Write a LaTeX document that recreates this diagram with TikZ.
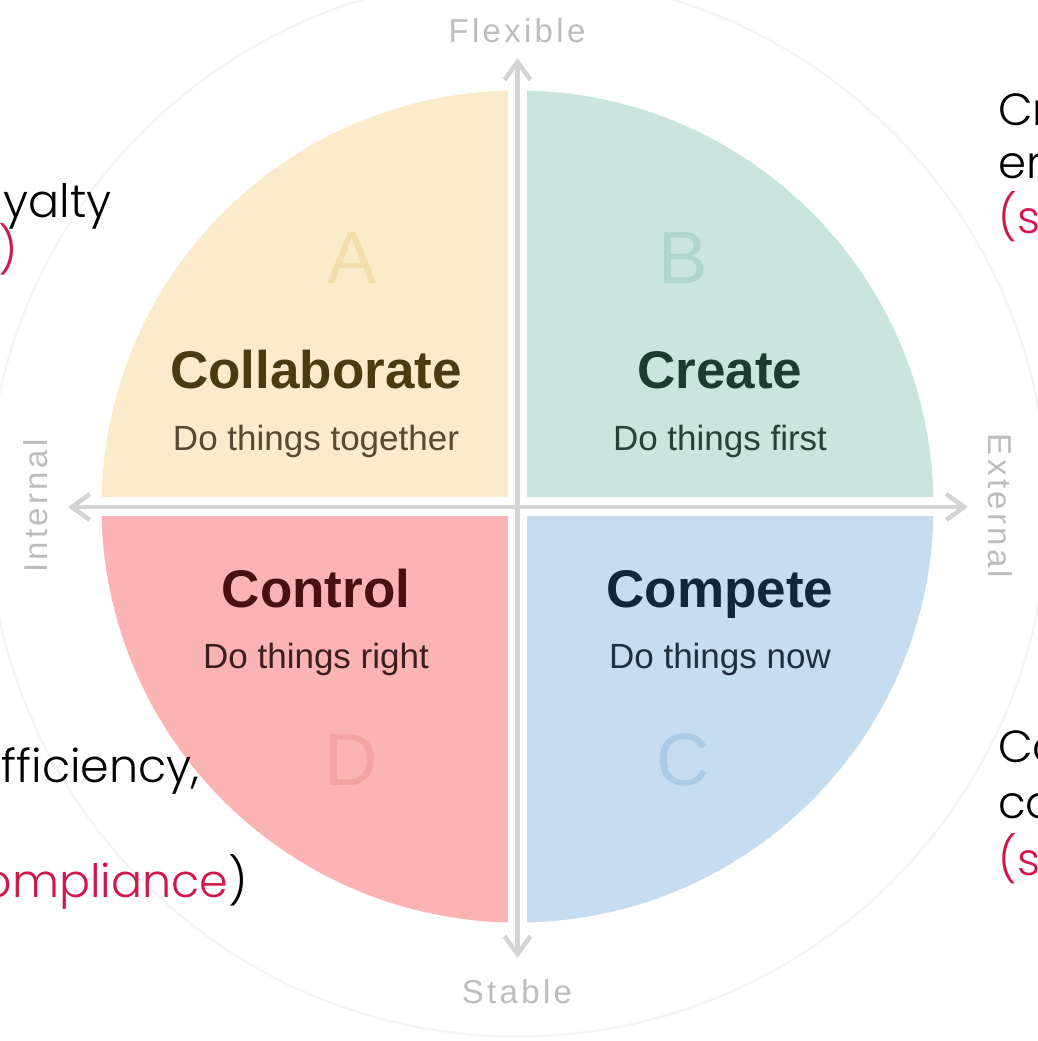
\documentclass[tikz,border=0pt]{standalone}
\usepackage{fontspec}
\setmainfont{Liberation Sans}
\newfontfamily\slidefont{Poppins Light}
\newfontfamily\axisfont{Liberation Sans}[LetterSpace=10]
\usetikzlibrary{arrows.meta}

\definecolor{collabfill}{HTML}{FAEBCB}
\definecolor{createfill}{HTML}{C9E5DD}
\definecolor{controlfill}{HTML}{FBB3B3}
\definecolor{competefill}{HTML}{C6DCF0}
\definecolor{collabtext}{HTML}{4B3A12}
\definecolor{createtext}{HTML}{1E3B30}
\definecolor{controltext}{HTML}{4A0F0F}
\definecolor{competetext}{HTML}{10263C}
\definecolor{collabsub}{HTML}{564A30}
\definecolor{createsub}{HTML}{2A3F37}
\definecolor{controlsub}{HTML}{3E1E1E}
\definecolor{competesub}{HTML}{1F2F3F}
\definecolor{collabletter}{HTML}{F2DEAA}
\definecolor{createletter}{HTML}{B0D6CB}
\definecolor{controlletter}{HTML}{F5A2A2}
\definecolor{competeletter}{HTML}{AACAE6}
\definecolor{axisgray}{HTML}{D4D4D4}
\definecolor{labelgray}{HTML}{BDBDBD}
\definecolor{ringgray}{HTML}{F4F4F4}
\definecolor{accent}{HTML}{D0174A}

\begin{document}
\begin{tikzpicture}[x=1pt, y=-1pt,%
  title/.style={anchor=base, inner sep=0pt, font=\fontsize{53}{60}\selectfont\bfseries},%
  motto/.style={anchor=base, inner sep=0pt, font=\fontsize{35}{42}\selectfont},%
  letter/.style={anchor=base, inner sep=0pt, font=\fontsize{74}{80}\selectfont},%
  axislabel/.style={inner sep=0pt, text=labelgray, font=\axisfont\fontsize{33}{40}\selectfont},%
  axis/.style={draw=axisgray, line width=4.5pt, {Straight Barb[length=18pt, width=26pt]}-{Straight Barb[length=18pt, width=26pt]}},%
  side/.style={anchor=base west, inner sep=0pt, font=\slidefont\fontsize{45}{54}\selectfont},%
  sideleft/.style={anchor=base east, inner sep=0pt, font=\slidefont\fontsize{46}{54}\selectfont}%
]
  \useasboundingbox (0,0) rectangle (1038,1041);
  \coordinate (c) at (517.5,506.5);
  \draw[ringgray, line width=2.5pt] (c) circle [radius=530];

  \begin{scope}
    \clip (c) circle [radius=416];
    \fill[collabfill] (508,497) rectangle (90,80);
    \fill[createfill] (527,497) rectangle (945,80);
    \fill[controlfill] (508,516) rectangle (90,935);
    \fill[competefill] (527,516) rectangle (945,935);
  \end{scope}

  \coordinate (up) at (517.5,58);
  \coordinate (down) at (517.5,958);
  \coordinate (west) at (68,507);
  \coordinate (east) at (968,507);
  \draw[axis] (down) -- (up);
  \draw[axis] (west) -- (east);

  \node[axislabel] (flex) at (517,31) {Flexible};
  \node[axislabel] (stab) at (517,992) {Stable};
  \node[axislabel, rotate=90] (intl) at (36,506) {Internal};
  \node[axislabel, rotate=-90] (extl) at (1000,506) {External};

  \node[letter, text=collabletter] (la) at (352,283) {A};
  \node[letter, text=createletter] (lb) at (683,283) {B};
  \node[letter, text=competeletter] (lc) at (683,785) {C};
  \node[letter, text=controlletter] (ld) at (351,785) {D};

  \node[title, text=collabtext] (t1) at (316,388) {Collaborate};
  \node[motto, text=collabsub] (m1) at (316,450) {Do things together};
  \node[title, text=createtext] (t2) at (720,388) {Create};
  \node[motto, text=createsub] (m2) at (720,450) {Do things first};
  \node[title, text=controltext] (t3) at (316,607) {Control};
  \node[motto, text=controlsub] (m3) at (316,668) {Do things right};
  \node[title, text=competetext] (t4) at (720,607) {Compete};
  \node[motto, text=competesub] (m4) at (720,668) {Do things now};

  \node[sideleft] (l1) at (112,217) {yalty};
  \node[sideleft, text=accent] (l2) at (18,266) {s)};
  \node[sideleft] (l3) at (200,782) {fficiency,};
  \node[sideleft] (l4) at (248,897) {\textcolor{accent}{ompliance})};
  \node[side] (r1) at (998,125) {Cr};
  \node[side] (r2) at (998,178) {er};
  \node[side, text=accent] (r3) at (998,233) {(s};
  \node[side] (r4) at (998,762) {Co};
  \node[side] (r5) at (998,818) {co};
  \node[side, text=accent] (r6) at (998,875) {(s};
\end{tikzpicture}
\end{document}
